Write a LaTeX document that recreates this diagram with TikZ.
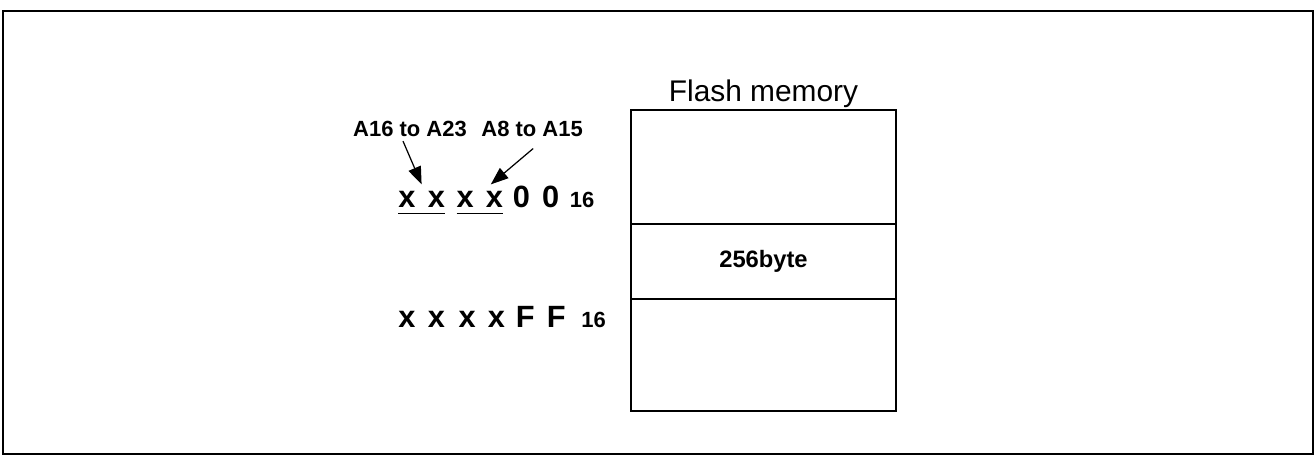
\documentclass[tikz,border=0pt]{standalone}
\usepackage{fontspec}
\setmainfont{Liberation Sans}
\usepackage{tikz}
\usetikzlibrary{
  arrows.meta,
  positioning
}
\tikzset{
  membox/.style={draw, line width=1pt, minimum width=5.3cm,
    inner sep=0, outer sep=0},
  addrx/.style={inner sep=0, font=\bfseries\fontsize{17.5}{20}\selectfont},
  addrd/.style={inner sep=0, font=\bfseries\fontsize{17.5}{20}\selectfont},
  radix/.style={inner sep=0, font=\bfseries\fontsize{12.5}{15}\selectfont},
  bitlbl/.style={inner sep=0, font=\bfseries\fontsize{12.5}{15}\selectfont},
  arr/.style={-{Triangle[length=10pt,width=7.5pt]}, line width=0.7pt},
}
\newcommand{\pairof}[1]{#1\hspace{7pt}#1}
\newcommand{\lowline}[1]{\underline{\rule[-1.6pt]{0pt}{1pt}#1}}

\begin{document}
\begin{tikzpicture}
  \useasboundingbox (0,0) rectangle (26.3,9.12);

  % Outer frame
  \draw[line width=1.1pt] (0.06,0.04) rectangle (26.26,8.9);

  % Flash memory map
  \node[membox, minimum height=2.28cm] (memTop) at (15.27,5.78) {};
  \node[membox, minimum height=1.5cm, below=0pt of memTop,
        font=\bfseries\fontsize{13.5}{16}\selectfont] (memPage) {256byte};
  \node[membox, minimum height=2.24cm, below=0pt of memPage] (memBot) {};
  \node[above=1pt of memTop, inner sep=0,
        font=\fontsize{17}{20}\selectfont] (memTitle) {Flash memory};

  % Start address of the block
  \node[addrx, anchor=base west] (hiA) at (7.96,4.96) {\lowline{\pairof{x}}};
  \node[addrx, base right=0.22cm of hiA] (midA) {\lowline{\pairof{x}}};
  \node[addrd, base right=0.18cm of midA] (loA) {\pairof{0}};
  \node[radix, base right=0.2cm of loA] (radA) {16};

  % End address of the block
  \node[addrx, anchor=base west] (hiB) at (7.96,2.56) {\pairof{x}};
  \node[addrx, base right=0.26cm of hiB] (midB) {\pairof{x}};
  \node[addrd, base right=0.2cm of midB] (loB) {\pairof{F}};
  \node[radix, base right=0.3cm of loB] (radB) {16};

  % Address bit labels
  \node[bitlbl, anchor=base] (lblHi) at (8.2,6.38) {A16 to A23};
  \node[bitlbl, base right=0.28cm of lblHi] (lblMid) {A8 to A15};

  \draw[arr] ([xshift=-0.14cm,yshift=-2pt]lblHi.south) -- ([yshift=4pt]hiA.north);
  \draw[arr] ([xshift=0.02cm,yshift=-0.22cm]lblMid.south) -- ([xshift=0.22cm,yshift=4pt]midA.north);
\end{tikzpicture}
\end{document}
